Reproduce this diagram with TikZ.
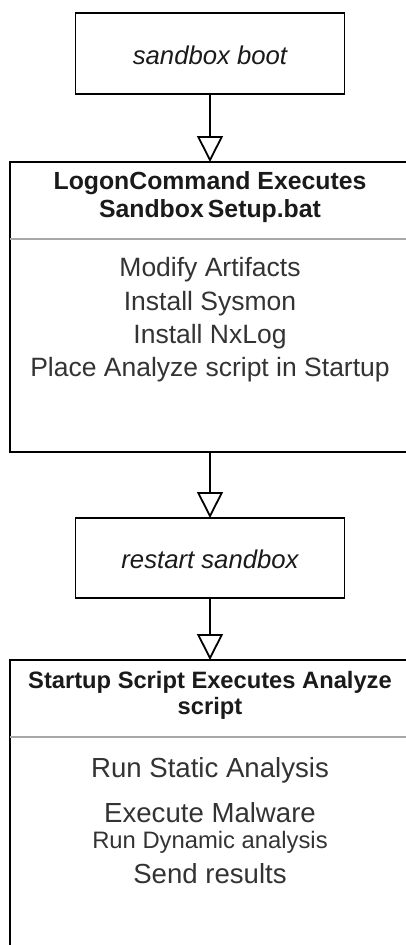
\documentclass[tikz,border=0pt]{standalone}
\usepackage{fontspec}
\setmainfont{Liberation Sans}
\usetikzlibrary{arrows.meta}
\definecolor{bodyink}{HTML}{333333}
\definecolor{headink}{HTML}{1A1A1A}
\definecolor{sepink}{HTML}{A8A8A8}
\tikzset{
  flowbox/.style={draw=black, line width=1.8pt, inner sep=0pt, outer sep=0pt},
  flowarrow/.style={line width=1.8pt, -{Triangle[open, length=26pt, width=26pt]}},
  sepline/.style={draw=sepink, line width=1.6pt},
  titletxt/.style={font=\fontsize{25.7}{30}\selectfont\itshape, text=headink},
  headtxt/.style={font=\fontsize{24.8}{28}\selectfont\bfseries, text=headink, align=center},
  bodytxt/.style={font=\fontsize{26.5}{30}\selectfont, text=bodyink},
  bodytxtb/.style={font=\fontsize{27.6}{30}\selectfont, text=bodyink},
  smalltxt/.style={font=\fontsize{23.8}{28}\selectfont, text=bodyink}
}
\begin{document}
\begin{tikzpicture}[x=1pt, y=-1pt]
\clip (0,0) rectangle (406,945);
% sandbox boot
\node[flowbox, minimum width=269pt, minimum height=81pt] (boot) at (210,53.5) {};
\node[titletxt] (boottxt) at (210,55) {sandbox boot};
% setup box
\node[flowbox, minimum width=400pt, minimum height=290pt] (setup) at (210,307) {};
\coordinate (setupsep) at (210,239);
\draw[sepline] (setup.west |- setupsep) -- (setup.east |- setupsep);
\node[headtxt] (setuphead) at (210,197) {LogonCommand Executes\\Sandbox\,Setup.bat};
\node[bodytxt] (s1) at (210,270) {Modify Artifacts};
\node[bodytxt] (s2) at (210,304) {Install Sysmon};
\node[bodytxt] (s3) at (210,337) {Install NxLog};
\node[bodytxt] (s4) at (210,370) {Place Analyze script in Startup};
% restart
\node[flowbox, minimum width=269pt, minimum height=80pt] (restart) at (210,558) {};
\node[titletxt] (restarttxt) at (210,559) {restart sandbox};
% analyze box
\node[flowbox, minimum width=400pt, minimum height=340pt, anchor=north] (analyze) at (210,660) {};
\coordinate (analyzesep) at (210,737);
\draw[sepline] (analyze.west |- analyzesep) -- (analyze.east |- analyzesep);
\node[headtxt, font=\fontsize{23.7}{26}\selectfont\bfseries] (analyzehead) at (210,695) {Startup Script Executes Analyze\\script};
\node[bodytxtb] (a1) at (210,770) {Run Static Analysis};
\node[bodytxtb] (a2) at (210,813) {Execute Malware};
\node[smalltxt] (a3) at (210,842) {Run Dynamic analysis};
\node[bodytxtb] (a4) at (210,874) {Send results};
% arrows
\draw[flowarrow] (boot.south) -- (setup.north);
\draw[flowarrow] (setup.south) -- (restart.north);
\draw[flowarrow] (restart.south) -- (analyze.north);
\end{tikzpicture}
\end{document}
